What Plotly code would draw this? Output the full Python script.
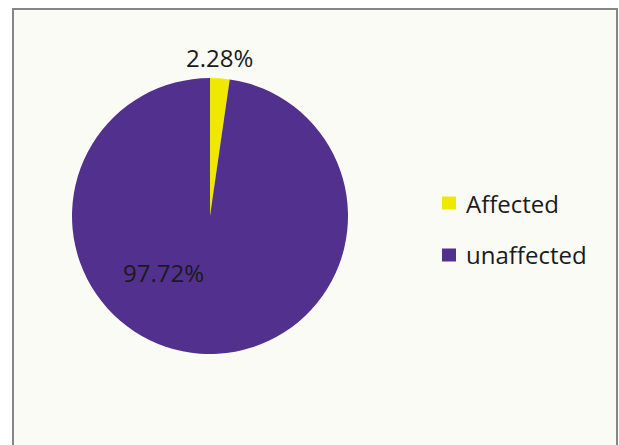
import plotly.graph_objects as go

# Share of the population by status
labels = ["Affected", "unaffected"]
values = [2.28, 97.72]
colors = ["#F0E800", "#52308E"]

W, H = 619, 445


def px(x):
    return x / W


def py(y):
    return 1 - y / H


fig = go.Figure()

cx, cy, r = 210, 216, 138
fig.add_trace(go.Pie(
    labels=labels,
    values=values,
    sort=False,
    direction="clockwise",
    rotation=0,
    marker=dict(colors=colors, line=dict(width=0)),
    textinfo="none",
    hoverinfo="label+percent",
    showlegend=False,
    domain=dict(x=[px(cx - r), px(cx + r)], y=[py(cy + r), py(cy - r)]),
))

# chart frame
fig.add_shape(type="rect", xref="paper", yref="paper",
              x0=px(13), x1=px(617), y0=-0.05, y1=py(9),
              fillcolor="#FBFBF6", line=dict(color="#868686", width=2),
              layer="below")

font = dict(family="Open Sans", size=24, color="#1A1A1A")

# slice value labels
label_pos = [(219, 57), (163, 272)]
for v, (lx, ly) in zip(values, label_pos):
    fig.add_annotation(x=px(lx), y=py(ly), xref="paper", yref="paper",
                       text=f"{v:.2f}%", showarrow=False, font=font,
                       xanchor="center", yanchor="middle")

# legend
legend_rows = [203, 255]
for lab, col, ry in zip(labels, colors, legend_rows):
    fig.add_shape(type="rect", xref="paper", yref="paper",
                  x0=px(442), x1=px(456), y0=py(ry + 6.5), y1=py(ry - 6.5),
                  fillcolor=col, line=dict(width=0))
    fig.add_annotation(x=px(464), y=py(ry), xref="paper", yref="paper",
                       text=lab, showarrow=False, font=font,
                       xanchor="left", yanchor="middle")

fig.update_layout(
    width=W, height=H,
    margin=dict(l=0, r=0, t=0, b=0),
    paper_bgcolor="white",
    plot_bgcolor="white",
)

fig.write_html("out.html")
